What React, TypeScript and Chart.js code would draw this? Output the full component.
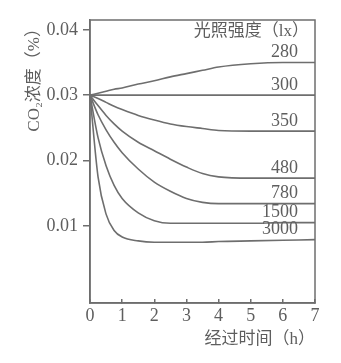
import React, { useEffect, useRef } from "react";
import { Chart, registerables } from "chart.js";

Chart.register(...registerables);

const hours = [0, 0.25, 0.5, 0.75, 1, 1.5, 2, 2.5, 3, 3.5, 4, 5, 6, 7];
const lightLevels = ["280", "300", "350", "480", "780", "1500", "3000"];
const co2_280 = [0.03, 0.0303, 0.0306, 0.0309, 0.0311, 0.0317, 0.0322, 0.0328, 0.0333, 0.0338, 0.0343, 0.0348, 0.035, 0.035];
const co2_300 = [0.03, 0.03, 0.03, 0.03, 0.03, 0.03, 0.03, 0.03, 0.03, 0.03, 0.03, 0.03, 0.03, 0.03];
const co2_350 = [0.03, 0.0295, 0.0289, 0.0283, 0.0278, 0.0269, 0.0262, 0.0256, 0.0252, 0.0249, 0.0246, 0.0245, 0.0245, 0.0245];
const co2_480 = [0.03, 0.0284, 0.0269, 0.0256, 0.0245, 0.0228, 0.0215, 0.0202, 0.019, 0.018, 0.0175, 0.0173, 0.0173, 0.0173];
const co2_780 = [0.03, 0.027, 0.0247, 0.0228, 0.0212, 0.0187, 0.0167, 0.0153, 0.0142, 0.0136, 0.0134, 0.0134, 0.0134, 0.0134];
const co2_1500 = [0.03, 0.0235, 0.0192, 0.0162, 0.0142, 0.012, 0.0108, 0.0104, 0.0104, 0.0104, 0.0104, 0.0104, 0.0105, 0.0105];
const co2_3000 = [0.03, 0.0175, 0.0118, 0.0093, 0.0083, 0.0077, 0.0075, 0.0075, 0.0075, 0.0075, 0.0076, 0.0077, 0.0078, 0.0079];
const seriesValues = [co2_280, co2_300, co2_350, co2_480, co2_780, co2_1500, co2_3000];
const yTickValues = [0.01, 0.02, 0.03, 0.04];
const xTitle = "经过时间（h）";
const yTitle = "CO₂浓度（%）";
const legendTitle = "光照强度（lx）";

const INK = "#5e5e5e";
const LINE = "#6e6e6e";
const SERIF = '"Liberation Serif", "Noto Sans CJK SC", serif';

const framePlugin = {
  id: "frame",
  beforeDatasetsDraw(chart: any) {
    const { ctx, chartArea } = chart;
    ctx.save();
    ctx.strokeStyle = LINE;
    ctx.lineWidth = 1.5;
    ctx.strokeRect(chartArea.left, chartArea.top, chartArea.right - chartArea.left, chartArea.bottom - chartArea.top);
    ctx.restore();
  },
  afterDatasetsDraw(chart: any) {
    const { ctx, chartArea } = chart;
    ctx.save();
    ctx.fillStyle = INK;
    ctx.font = "17px " + SERIF;
    ctx.textAlign = "right";
    ctx.textBaseline = "middle";
    ctx.fillText(legendTitle, chartArea.right - 6, chartArea.top + 12);
    ctx.font = "18px " + SERIF;
    chart.data.datasets.forEach((ds: any, i: number) => {
      const meta = chart.getDatasetMeta(i);
      const last = meta.data[meta.data.length - 1];
      if (!last) return;
      ctx.fillText(ds.label, chartArea.right - 17, last.y - 10);
    });
    ctx.restore();
  },
};

export default function App() {
  const ref = useRef<HTMLCanvasElement | null>(null);
  useEffect(() => {
    document.body.style.margin = "0";
    if (!ref.current) return;
    const chart = new Chart(ref.current, {
      type: "line",
      data: {
        labels: hours,
        datasets: lightLevels.map((lab, i) => ({
          label: lab,
          data: hours.map((h, j) => ({ x: h, y: seriesValues[i][j] })),
          borderColor: LINE,
          borderWidth: 1.6,
          pointRadius: 0,
          fill: false,
          cubicInterpolationMode: "monotone" as const,
        })),
      },
      options: {
        animation: false,
        responsive: false,
        devicePixelRatio: 1,
        layout: { padding: { left: 0, right: 26, top: 20, bottom: 0 } },
        plugins: { legend: { display: false }, tooltip: { enabled: false } },
        scales: {
          x: {
            type: "linear",
            min: 0,
            max: 7,
            ticks: {
              stepSize: 1,
              color: INK,
              font: { family: SERIF, size: 18 },
              padding: 6,
              callback: (v: any) => String(v),
            },
            grid: { drawOnChartArea: false, drawTicks: true, tickLength: -4, color: LINE, lineWidth: 1.5 },
            border: { display: true, color: LINE, width: 1.5 },
            title: {
              display: true,
              text: xTitle,
              align: "end",
              color: INK,
              font: { family: SERIF, size: 17 },
              padding: { top: 0, bottom: 13 },
            },
            afterFit: (s: any) => {
              s.height = 60;
            },
          },
          y: {
            type: "linear",
            min: -0.0018,
            max: 0.0415,
            afterBuildTicks: (s: any) => {
              s.ticks = yTickValues.map((v) => ({ value: v }));
            },
            ticks: {
              color: INK,
              font: { family: SERIF, size: 18 },
              padding: 5,
              callback: (v: any) => Number(v).toFixed(2),
            },
            grid: { drawOnChartArea: false, drawTicks: true, tickLength: 7, color: LINE, lineWidth: 1.5 },
            border: { display: true, color: LINE, width: 1.5 },
            title: {
              display: true,
              text: yTitle,
              align: "end",
              color: INK,
              font: { family: SERIF, size: 17 },
              padding: { top: 24, bottom: 0 },
            },
            afterFit: (s: any) => {
              s.width = 90;
            },
          },
        },
      },
      plugins: [framePlugin],
    } as any);
    return () => chart.destroy();
  }, []);
  return <canvas ref={ref} width={341} height={363} style={{ display: "block" }} />;
}
